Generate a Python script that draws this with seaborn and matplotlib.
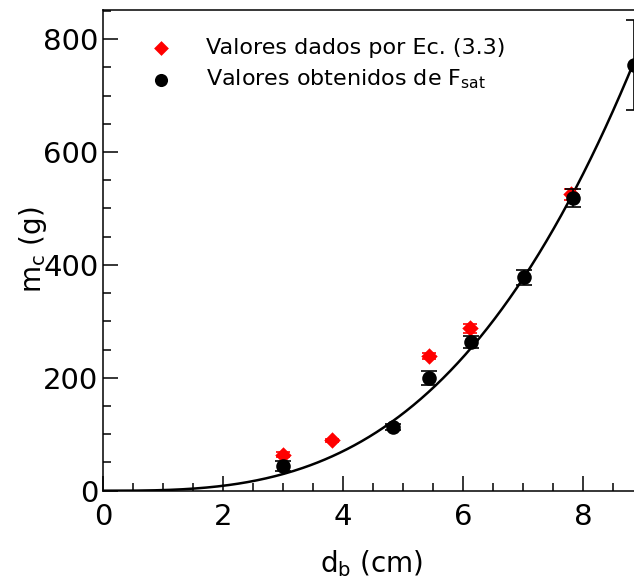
import numpy as np
import pandas as pd
import matplotlib
matplotlib.use("Agg")
import matplotlib.pyplot as plt
import seaborn as sns

# Data
d_ec = [3.00, 3.81, 5.42, 6.11, 7.80]
m_ec = [64, 89, 239, 288, 525]
err_ec = [4, 3, 5, 8, 10]

d_fsat = [3.00, 4.82, 5.43, 6.12, 7.01, 7.82, 8.84]
m_fsat = [44, 113, 200, 263, 378, 519, 754]
err_fsat = [9, 5, 12, 11, 13, 16, 80]

label_ec = "Valores dados por Ec. (3.3)"
label_fsat = r"Valores obtenidos de F$_{\mathrm{sat}}$"

sns.set_style("ticks")
plt.rcParams["font.family"] = ["DejaVu Sans"]
plt.rcParams["mathtext.fontset"] = "dejavusans"
plt.rcParams["text.color"] = "black"
plt.rcParams["axes.labelcolor"] = "black"

W, H = 634, 583
fig = plt.figure(figsize=(W / 100, H / 100), dpi=100)
left_px, bottom_px, top_px, right_px = 103.3, 490.7, 9.7, 640
ax = fig.add_axes([left_px / W, (H - bottom_px) / H,
                   (right_px - left_px) / W, (bottom_px - top_px) / H])

# fit m = a d^3 (least squares on F_sat data)
d_arr = np.array(d_fsat)
m_arr = np.array(m_fsat)
a = np.sum(m_arr * d_arr**3) / np.sum(d_arr**6)
x_fit = np.linspace(0, 9.2, 300)
fit_df = pd.DataFrame({"d": x_fit, "m": a * x_fit**3})
sns.lineplot(data=fit_df, x="d", y="m", color="black", lw=1.8, ax=ax, zorder=2)

df_ec = pd.DataFrame({"d": d_ec, "m": m_ec})
df_fs = pd.DataFrame({"d": d_fsat, "m": m_fsat})

ax.errorbar(d_ec, m_ec, yerr=err_ec, fmt="none", ecolor="red", elinewidth=1.2,
            capsize=5, capthick=1.2, zorder=3)
sns.scatterplot(data=df_ec, x="d", y="m", marker="D", color="red", s=70,
                edgecolor="red", linewidth=0, ax=ax, zorder=4, label=label_ec)
ax.errorbar(d_fsat, m_fsat, yerr=err_fsat, fmt="none", ecolor="black",
            elinewidth=1.2, capsize=5.5, capthick=1.2, zorder=5)
sns.scatterplot(data=df_fs, x="d", y="m", marker="o", color="black", s=110,
                edgecolor="black", linewidth=0, ax=ax, zorder=6, label=label_fsat)

ax.set_xlim(0, (right_px - left_px) / 60.0)
ax.set_ylim(0, (bottom_px - top_px) / 0.5645)
ax.set_xticks([0, 2, 4, 6, 8])
ax.set_yticks([0, 200, 400, 600, 800])
ax.set_xticks(np.arange(0, 9.0, 0.5), minor=True)
ax.set_yticks(np.arange(0, 851, 50), minor=True)
ax.tick_params(axis="both", which="major", direction="in", length=11, width=1.1,
               labelsize=21, color="black", labelcolor="black")
ax.tick_params(axis="x", which="major", pad=9)
ax.tick_params(axis="y", which="major", pad=3.5)
ax.tick_params(axis="both", which="minor", direction="in", length=6, width=1.1,
               color="black")
ax.tick_params(top=False, right=False, which="both")
for s in ["left", "bottom", "top"]:
    ax.spines[s].set_linewidth(1.1)
    ax.spines[s].set_color("black")
ax.spines["right"].set_visible(False)

ax.set_xlabel(r"d$_{\mathrm{b}}$ (cm)", fontsize=20, labelpad=12)
ax.set_ylabel(r"m$_{\mathrm{c}}$ (g)", fontsize=20, labelpad=-4)

leg = ax.legend(loc="upper left", bbox_to_anchor=(0.087, 0.942), frameon=False,
                fontsize=16, handletextpad=1.5, labelspacing=0.45,
                handlelength=1.0, borderaxespad=0, borderpad=0, markerscale=0.9)

fig.savefig("out.png", dpi=100)
